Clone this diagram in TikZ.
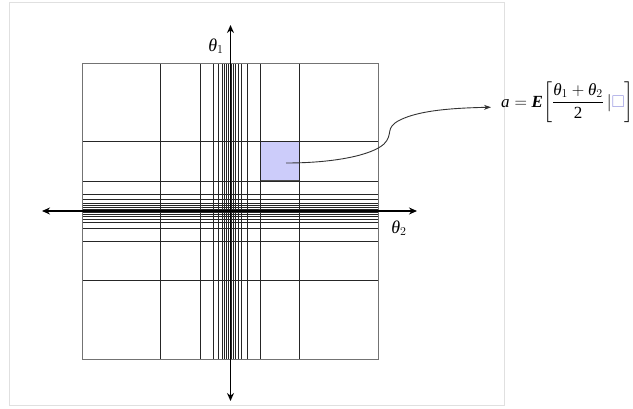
\documentclass[tikz,border=0pt]{standalone}
\usepackage{amsmath,amssymb}
\usepackage{fontspec}
\setmainfont{Liberation Serif}
\usepackage{tikz}
\usetikzlibrary{arrows.meta,positioning,calc}
\definecolor{cellfill}{RGB}{204,204,250}
\definecolor{boxcol}{RGB}{150,150,225}
\tikzset{
  frameline/.style={draw=black!12, line width=0.8pt},
  gridline/.style={draw=black!85, line width=0.65pt},
  gridedge/.style={draw=black!55, line width=0.9pt},
  axisline/.style={{Stealth[length=8pt,width=7pt]}-{Stealth[length=8pt,width=7pt]}, line width=1.8pt, draw=black},
  lab/.style={font=\fontsize{18}{21}\selectfont, inner sep=1pt},
  link/.style={-{Stealth[length=7pt,width=5pt]}, line width=0.9pt, draw=black!80},
}
\begin{document}
\begin{tikzpicture}[x=1pt, y=-1pt]
  \useasboundingbox (0,0) rectangle (633,408);
  \draw[frameline] (9,2) rectangle (504,405);
  \coordinate (c) at (230,211);
  % highlighted cell
  \node[fill=cellfill, draw=black!70, line width=0.6pt, minimum size=39pt, inner sep=0pt]
    (cell) at ($(c)+(49.5,-50.5)$) {};
  % refined grid lines, dense near the origin
  \foreach \d in {1.7,3.5,5.5,8,11.5,17,30,69.5} {
    \draw[gridline] ($(c)+(\d,-148)$) -- ($(c)+(\d,148)$);
    \draw[gridline] ($(c)+(-\d,-148)$) -- ($(c)+(-\d,148)$);
    \draw[gridline] ($(c)+(-148,\d)$) -- ($(c)+(148,\d)$);
    \draw[gridline] ($(c)+(-148,-\d)$) -- ($(c)+(148,-\d)$);
  }
  \node[gridedge, minimum size=296pt, inner sep=0pt] (grid) at (c) {};
  % axes
  \coordinate (ytop) at (230.5,25);
  \coordinate (ybot) at (230.5,401);
  \coordinate (xleft) at (42,211);
  \coordinate (xright) at (417,211);
  \draw[axisline] (ybot) -- (ytop);
  \draw[axisline] (xleft) -- (xright);
  \node[lab] (t1) at (216,46) {\textit{θ}$_1$};
  \node[lab] (t2) at (399,228) {\textit{θ}$_2$};
  % conditional mean of the cell
  \node[font=\fontsize{17}{20}\selectfont, anchor=base west, inner sep=0pt] (formula) at (501,107)
    {$\textit{a} = \textbf{\textit{E}}\biggl[\dfrac{\textit{θ}_1+\textit{θ}_2}{\text{2}}\,|{\color{boxcol}\square}\biggr]$};
  \coordinate (src) at (286,163);
  \draw[link, shorten >=10pt] (src) .. controls (335,163) and (372,155) .. (384,144)
    .. controls (394,134) and (384,128) .. (400,120)
    .. controls (420,110) and (455,108) .. (formula.base west);
\end{tikzpicture}
\end{document}
